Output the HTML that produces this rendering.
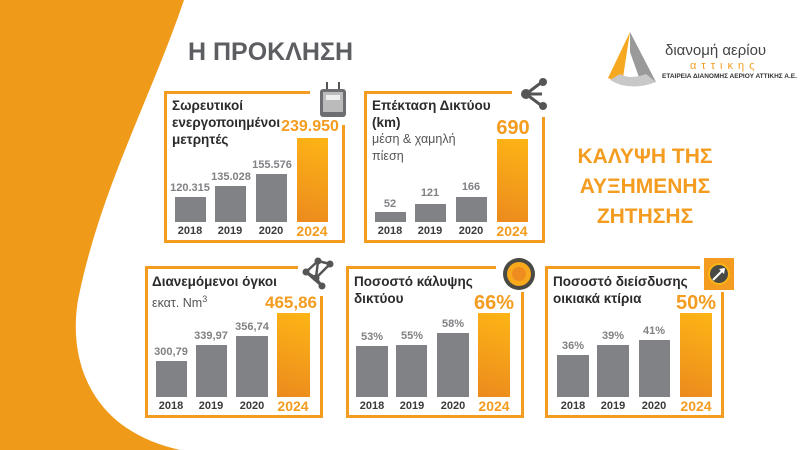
<!DOCTYPE html>
<html><head><meta charset="utf-8"><style>
*{margin:0;padding:0;box-sizing:border-box}
body{width:800px;height:450px;overflow:hidden;background:#fff;position:relative;font-family:"Liberation Sans","DejaVu Sans",sans-serif}
.a{position:absolute}
.b{position:absolute;background:#f39c1f}
.bar{position:absolute;background:#818285}
.o{position:absolute;background:linear-gradient(200deg,#fdb515,#ec8a1e)}
.v{position:absolute;font-size:11px;font-weight:bold;color:#808184;text-align:center;width:50px}
.vo{position:absolute;font-size:18px;font-weight:bold;color:#f39c1f;text-align:center;width:70px}
.y{position:absolute;font-size:11px;font-weight:bold;color:#3a3a3a;text-align:center;width:40px}
.yo{position:absolute;font-size:14px;font-weight:bold;color:#f39c1f;text-align:center;width:50px}
.t{position:absolute;font-size:13.5px;font-weight:bold;color:#2b2b2b;line-height:17px}
.s{position:absolute;font-size:12.5px;color:#555;line-height:17px}
</style></head><body>
<svg class="a" style="left:0;top:0" width="800" height="450"><path d="M0 0 L184 0 C150 100 100 190 78 300 C68 360 90 430 180 450 L0 450 Z" fill="#f09a1a"/></svg>

<div class="a" style="left:188px;top:38px;font-size:25px;font-weight:bold;color:#5d5e61">Η ΠΡΟΚΛΗΣΗ</div>
<div class="a" style="left:555px;top:142px;width:180px;text-align:center;font-size:21px;font-weight:bold;color:#f39c1f;line-height:30px">ΚΑΛΥΨΗ ΤΗΣ<br>ΑΥΞΗΜΕΝΗΣ<br>ΖΗΤΗΣΗΣ</div>

<!-- logo -->
<svg class="a" style="left:600px;top:30px" width="60" height="60"><path d="M30 2 L56 52 L40 50 L30 22 Z" fill="#9a9a9a"/><path d="M30 2 L8 48 L22 54 Z" fill="#f6a821"/><path d="M10 50 Q30 62 56 52 L46 44 Q30 50 20 44Z" fill="#c8c8c8"/></svg>
<div class="a" style="left:665px;top:42px;font-size:15px;color:#444">διανομή αερίου</div>
<div class="a" style="left:690px;top:60px;font-size:11px;color:#f39c1f;letter-spacing:5px">αττικης</div>
<div class="a" style="left:662px;top:73px;font-size:6.5px;font-weight:bold;color:#333">ΕΤΑΙΡΕΙΑ ΔΙΑΝΟΜΗΣ ΑΕΡΙΟΥ ΑΤΤΙΚΗΣ Α.Ε.</div>

<!-- Panel 1 -->
<div class="b" style="left:164px;top:91px;width:146px;height:3px"></div>
<div class="b" style="left:164px;top:91px;width:3px;height:152px"></div>
<div class="b" style="left:164px;top:240px;width:181px;height:3px"></div>
<div class="b" style="left:342px;top:125px;width:3px;height:118px"></div>
<svg class="a" style="left:318px;top:80px" width="30" height="40"><rect x="8" y="2" width="2" height="8" fill="#555"/><rect x="20" y="2" width="2" height="8" fill="#555"/><rect x="2" y="9" width="26" height="28" rx="3" fill="#6d6e71"/><rect x="5" y="12" width="20" height="20" fill="#bbb"/><rect x="8" y="15" width="14" height="5" fill="#eee"/></svg>
<div class="t" style="left:172px;top:97px">Σωρευτικοί<br>ενεργοποιημένοι<br>μετρητές</div>
<div class="bar" style="left:175px;top:197px;width:31px;height:25px"></div>
<div class="bar" style="left:215px;top:186px;width:31px;height:36px"></div>
<div class="bar" style="left:256px;top:174px;width:31px;height:48px"></div>
<div class="o" style="left:297px;top:138px;width:31px;height:84px"></div>
<div class="v" style="left:165px;top:182px">120.315</div>
<div class="v" style="left:206px;top:171px">135.028</div>
<div class="v" style="left:247px;top:159px">155.576</div>
<div class="vo" style="left:275px;top:118px;font-size:16px">239.950</div>
<div class="y" style="left:170px;top:225px">2018</div>
<div class="y" style="left:210px;top:225px">2019</div>
<div class="y" style="left:251px;top:225px">2020</div>
<div class="yo" style="left:287px;top:223px">2024</div>

<!-- Panel 2 -->
<div class="b" style="left:364px;top:91px;width:148px;height:3px"></div>
<div class="b" style="left:364px;top:91px;width:3px;height:152px"></div>
<div class="b" style="left:364px;top:240px;width:181px;height:3px"></div>
<div class="b" style="left:542px;top:117px;width:3px;height:126px"></div>
<svg class="a" style="left:518px;top:76px" width="32" height="36"><g stroke="#555" stroke-width="3"><line x1="8" y1="18" x2="24" y2="6"/><line x1="8" y1="18" x2="24" y2="30"/><line x1="8" y1="18" x2="24" y2="18"/></g><circle cx="8" cy="18" r="5" fill="#555"/><circle cx="25" cy="6" r="4" fill="#555"/><circle cx="25" cy="30" r="4" fill="#555"/></svg>
<div class="t" style="left:372px;top:97px">Επέκταση Δικτύου<br>(km)</div>
<div class="s" style="left:372px;top:131px">μέση &amp; χαμηλή<br>πίεση</div>
<div class="bar" style="left:375px;top:212px;width:31px;height:10px"></div>
<div class="bar" style="left:415px;top:204px;width:31px;height:18px"></div>
<div class="bar" style="left:456px;top:197px;width:31px;height:25px"></div>
<div class="o" style="left:497px;top:139px;width:31px;height:83px"></div>
<div class="v" style="left:365px;top:198px">52</div>
<div class="v" style="left:405px;top:187px">121</div>
<div class="v" style="left:446px;top:181px">166</div>
<div class="vo" style="left:478px;top:117px;font-size:20px">690</div>
<div class="y" style="left:370px;top:225px">2018</div>
<div class="y" style="left:410px;top:225px">2019</div>
<div class="y" style="left:451px;top:225px">2020</div>
<div class="yo" style="left:487px;top:223px">2024</div>

<!-- Panel 3 -->
<div class="b" style="left:145px;top:266px;width:153px;height:3px"></div>
<div class="b" style="left:145px;top:266px;width:3px;height:152px"></div>
<div class="b" style="left:145px;top:415px;width:178px;height:3px"></div>
<div class="b" style="left:320px;top:296px;width:3px;height:122px"></div>
<svg class="a" style="left:300px;top:256px" width="34" height="34"><g stroke="#555" stroke-width="2.5"><line x1="6" y1="16" x2="18" y2="5"/><line x1="18" y1="5" x2="30" y2="8"/><line x1="6" y1="16" x2="16" y2="22"/><line x1="16" y1="22" x2="30" y2="8"/><line x1="16" y1="22" x2="22" y2="30"/><line x1="18" y1="5" x2="16" y2="22"/><line x1="6" y1="16" x2="22" y2="30"/></g><g fill="#555"><circle cx="6" cy="16" r="3.5"/><circle cx="18" cy="5" r="3.5"/><circle cx="30" cy="8" r="3.5"/><circle cx="16" cy="22" r="3.5"/><circle cx="22" cy="30" r="3.5"/></g></svg>
<div class="t" style="left:152px;top:273px">Διανεμόμενοι όγκοι</div>
<div class="s" style="left:152px;top:291px">εκατ. Nm<sup style="font-size:9px">3</sup></div>
<div class="bar" style="left:156px;top:361px;width:31px;height:36px"></div>
<div class="bar" style="left:196px;top:345px;width:31px;height:52px"></div>
<div class="bar" style="left:236px;top:336px;width:32px;height:61px"></div>
<div class="o" style="left:277px;top:313px;width:33px;height:84px"></div>
<div class="v" style="left:146px;top:346px">300,79</div>
<div class="v" style="left:186px;top:330px">339,97</div>
<div class="v" style="left:227px;top:321px">356,74</div>
<div class="vo" style="left:256px;top:293px;font-size:17px">465,86</div>
<div class="y" style="left:151px;top:400px">2018</div>
<div class="y" style="left:191px;top:400px">2019</div>
<div class="y" style="left:232px;top:400px">2020</div>
<div class="yo" style="left:268px;top:398px">2024</div>

<!-- Panel 4 -->
<div class="b" style="left:346px;top:266px;width:150px;height:3px"></div>
<div class="b" style="left:346px;top:266px;width:3px;height:152px"></div>
<div class="b" style="left:346px;top:415px;width:178px;height:3px"></div>
<div class="b" style="left:521px;top:292px;width:3px;height:126px"></div>
<svg class="a" style="left:502px;top:257px" width="34" height="34"><circle cx="17" cy="17" r="16" fill="#4a4a44"/><circle cx="17" cy="17" r="12" fill="#f7a81b"/><circle cx="17" cy="17" r="7" fill="#ee8c20"/></svg>
<div class="t" style="left:354px;top:273px">Ποσοστό κάλυψης<br>δικτύου</div>
<div class="bar" style="left:356px;top:346px;width:32px;height:51px"></div>
<div class="bar" style="left:396px;top:345px;width:31px;height:52px"></div>
<div class="bar" style="left:437px;top:333px;width:32px;height:64px"></div>
<div class="o" style="left:478px;top:313px;width:32px;height:84px"></div>
<div class="v" style="left:347px;top:331px">53%</div>
<div class="v" style="left:387px;top:330px">55%</div>
<div class="v" style="left:428px;top:318px">58%</div>
<div class="vo" style="left:459px;top:292px;font-size:20px">66%</div>
<div class="y" style="left:352px;top:400px">2018</div>
<div class="y" style="left:392px;top:400px">2019</div>
<div class="y" style="left:433px;top:400px">2020</div>
<div class="yo" style="left:469px;top:398px">2024</div>

<!-- Panel 5 -->
<div class="b" style="left:545px;top:266px;width:155px;height:3px"></div>
<div class="b" style="left:545px;top:266px;width:3px;height:152px"></div>
<div class="b" style="left:545px;top:415px;width:179px;height:3px"></div>
<div class="b" style="left:721px;top:292px;width:3px;height:126px"></div>
<svg class="a" style="left:704px;top:258px" width="30" height="32"><rect width="30" height="32" fill="#f39c1f"/><circle cx="15" cy="16" r="10" fill="#4a4a44" stroke="#fdb515" stroke-width="2"/><line x1="9" y1="22" x2="20" y2="11" stroke="#fff" stroke-width="2"/><path d="M21 10 L15 11 L20 16Z" fill="#fff"/></svg>
<div class="t" style="left:553px;top:273px">Ποσοστό διείσδυσης<br>οικιακά κτίρια</div>
<div class="bar" style="left:557px;top:355px;width:32px;height:42px"></div>
<div class="bar" style="left:597px;top:345px;width:32px;height:52px"></div>
<div class="bar" style="left:639px;top:340px;width:31px;height:57px"></div>
<div class="o" style="left:680px;top:313px;width:32px;height:84px"></div>
<div class="v" style="left:548px;top:340px">36%</div>
<div class="v" style="left:588px;top:330px">39%</div>
<div class="v" style="left:629px;top:325px">41%</div>
<div class="vo" style="left:661px;top:292px;font-size:20px">50%</div>
<div class="y" style="left:553px;top:400px">2018</div>
<div class="y" style="left:593px;top:400px">2019</div>
<div class="y" style="left:634px;top:400px">2020</div>
<div class="yo" style="left:671px;top:398px">2024</div>
</body></html>
